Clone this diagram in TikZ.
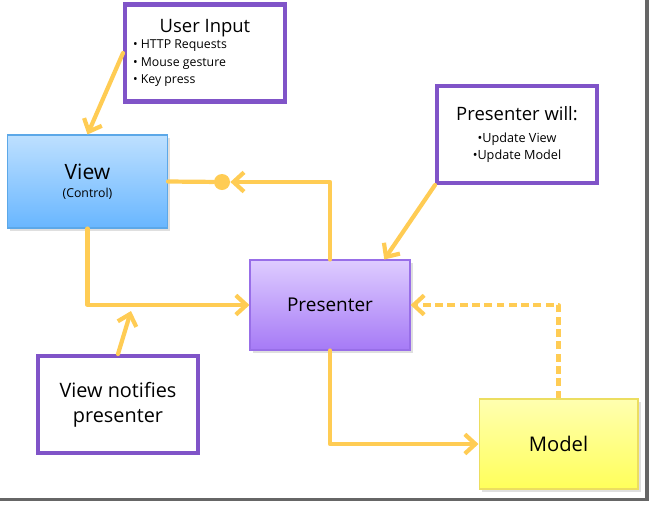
\documentclass[tikz,border=0pt]{standalone}
\usepackage{fontspec}
\setmainfont{Open Sans}
\usetikzlibrary{arrows.meta,positioning,shadows}
\definecolor{notepurple}{RGB}{128,84,200}
\definecolor{flowyellow}{RGB}{255,204,84}
\definecolor{viewtop}{RGB}{190,224,255}
\definecolor{viewbot}{RGB}{104,182,255}
\definecolor{viewline}{RGB}{92,168,232}
\definecolor{prestop}{RGB}{222,204,255}
\definecolor{presbot}{RGB}{166,122,246}
\definecolor{presline}{RGB}{152,110,232}
\definecolor{modeltop}{RGB}{255,255,176}
\definecolor{modelbot}{RGB}{255,255,90}
\definecolor{modelline}{RGB}{236,222,96}
\newcommand{\headsize}{\fontsize{10.5}{13}\selectfont}

\begin{document}
\begin{tikzpicture}[x=0.02cm, y=-0.02cm, >={Straight Barb[length=6pt, width=11pt]},
  note/.style={draw=notepurple, line width=2.3pt, fill=white, minimum width=3.2cm, minimum height=1.94cm, inner sep=0pt},
  part/.style={draw, line width=0.6pt, minimum width=3.2cm, minimum height=1.8cm, inner sep=0pt,
    drop shadow={shadow xshift=1.5pt, shadow yshift=-1.5pt, opacity=0.25}},
  flow/.style={draw=flowyellow, line width=2.4pt, line cap=round, line join=round}]
  \useasboundingbox (0,0) rectangle (651,505);

  % window edge
  \draw[black!60, line width=2.2pt] (647,0) -- (647,499.5) -- (0,499.5);

  % boxes
  \node[note, align=left, font=\fontsize{7}{9.9}\selectfont] (input) at (205,53)
    {\makebox[2.88cm]{\headsize User Input}\\[-0.5pt]
     \textbullet\ HTTP Requests\\ \textbullet\ Mouse gesture\\ \textbullet\ Key press};
  \node[part, draw=viewline, top color=viewtop, bottom color=viewbot, minimum height=1.86cm, align=center] (view) at (87.5,181.5)
    {{\fontsize{12}{14}\selectfont View}\\[-2pt] {\fontsize{7}{9}\selectfont (Control)}};
  \node[note, align=center, font=\fontsize{7.2}{9.8}\selectfont] (will) at (517,134.5)
    {{\headsize Presenter will:}\\[2.5pt] \textbullet Update View\\ \textbullet Update Model};
  \node[part, draw=presline, top color=prestop, bottom color=presbot, font=\fontsize{10.8}{14}\selectfont] (pres) at (330,305)
    {Presenter};
  \node[note, align=center, font=\fontsize{11.3}{14.2}\selectfont] (notify) at (118,404.5)
    {View notifies\\ presenter};
  \node[part, draw=modelline, top color=modeltop, bottom color=modelbot, minimum width=3.18cm, font=\fontsize{11.5}{14}\selectfont] (model) at (558.5,444)
    {Model};

  \node[circle, fill=flowyellow, minimum size=0.32cm, inner sep=0pt] (dot) at (222,182) {};
  \coordinate (tap) at (131,311);

  % connectors
  \draw[flow, ->] (input.west) -- (view.north);
  \draw[flow, ->] (pres.north) |- (dot);
  \draw[flow] (dot) -- (view.east);
  \draw[flow, ->] (view.south) |- (pres.west);
  \draw[flow, ->] (notify.north) -- (tap);
  \draw[flow, ->] (will.south west) -- (pres.40);
  \draw[flow, ->] (pres.south) |- (model.west);
  \draw[flow, ->, dash pattern=on 4.5pt off 2.5pt, line cap=butt] (model.north) |- (pres.east);
\end{tikzpicture}
\end{document}
